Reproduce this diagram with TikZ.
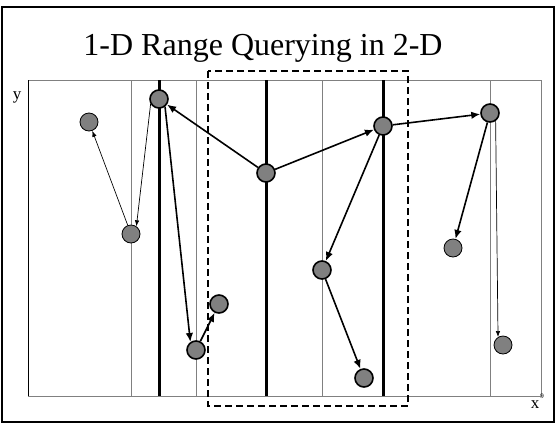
\documentclass[tikz,border=0pt]{standalone}
\usepackage{fontspec}
\setmainfont{Liberation Serif}
\usetikzlibrary{arrows.meta,positioning}

\tikzset{
  key/.style={circle,draw,line width=1.6pt,fill=gray,minimum size=18pt,inner sep=0pt},
  leaf/.style={circle,draw,line width=0.8pt,fill=gray,minimum size=18pt,inner sep=0pt},
  split/.style={line width=3pt},
  cell/.style={gray,line width=0.9pt},
  walk/.style={->,line width=1.6pt,>={Latex[length=9pt,width=7.5pt]}},
  hop/.style={->,line width=0.7pt,>={Latex[length=6pt,width=4.5pt]}}
}

\begin{document}
\begin{tikzpicture}[x=1pt,y=-1pt]
\useasboundingbox (0,0) rectangle (559,424);
\draw[line width=1.8pt] (2,7) rectangle (554,422);
\node (title) at (263,48) {\fontsize{32}{36}\selectfont 1-D Range Querying in 2-D};
% cells of the plane
\draw[cell] (28,80) rectangle (541,396);
\draw[black,line width=0.9pt] (28,80) -- (28,396);
\foreach \x in {131,196,322,490}
  \draw[cell] (\x,80) -- (\x,396);
\foreach \x in {159,266,383}
  \draw[split] (\x,80) -- (\x,396);
% query range
\draw[dashed,line width=1.3pt,dash pattern=on 7pt off 4pt] (208,71) rectangle (408,406);
\node (ylab) at (17,97) {\fontsize{17}{19}\selectfont y};
\node (xlab) at (535,405) {\fontsize{17}{19}\selectfont x};
\node (nine) at (542,396) {\fontsize{7}{8}\selectfont 9};
% points
\node[key] (a) at (159,99) {};
\node[leaf] (b) at (89,122) {};
\node[leaf] (c) at (131,234) {};
\node[key] (r) at (266,173) {};
\node[key] (d) at (383,126) {};
\node[key] (e) at (490,113) {};
\node[leaf] (f) at (453,248) {};
\node[key] (g) at (322,270) {};
\node[key] (h) at (196,350) {};
\node[key] (i) at (219,304) {};
\node[key] (j) at (364,378) {};
\node[leaf] (k) at (503,345) {};
% search paths
\draw[walk] (r) -- (a);
\draw[walk] (r) -- (d);
\draw[walk] (d) -- (e);
\draw[walk] (d) -- (g);
\draw[walk] (e) -- (f);
\draw[walk] (g) -- (j);
\draw[walk] (a.-52) -- (h.125);
\draw[walk] (h) -- (i);
\draw[hop] (a.211) -- (c.55);
\draw[hop] (c) -- (b);
\draw[hop] (e.-55) -- (k.122);
\end{tikzpicture}
\end{document}
